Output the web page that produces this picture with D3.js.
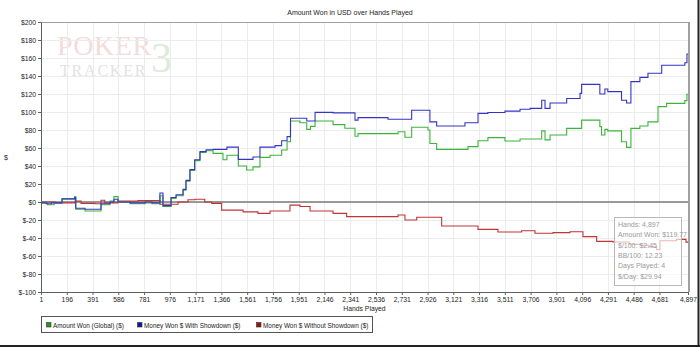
<!DOCTYPE html>
<html><head><meta charset="utf-8">
<script src="https://cdn.jsdelivr.net/npm/d3@7"></script>
<style>body{margin:0;background:#fff}svg{display:block}</style>
</head><body><svg id="c" width="700" height="348" font-family="'Liberation Sans',Arial,sans-serif"></svg>
<script>
const xTicks = [1,196,391,586,781,976,1171,1366,1561,1756,1951,2146,2341,2536,2731,2926,3121,3316,3511,3706,3901,4096,4291,4486,4681,4897];
const yTicks = [-100,-80,-60,-40,-20,0,20,40,60,80,100,120,140,160,180,200];
const seriesNames = ["Amount Won (Global) ($)","Money Won $ With Showdown ($)","Money Won $ Without Showdown ($)"];
const seriesColors = ["#3cb43c","#3535c4","#c03434"];
const legendColors = ["#1f9a1f","#15159a","#9a1515"];
// [hands, dollars]
const greenSeries = [[1,-1],[50,-3],[100,-1],[160,3.5],[256,5.5],[264,-8],[334,-10],[455,-3],[523,1],[553,6],[584,0],[675,-2],[788,-1],[841,-2],[901,7],[924,-5],[985,4],[1023,7],[1076,13],[1098,23],[1128,35],[1164,46],[1204,55],[1250,57],[1303,54],[1378,47],[1408,52],[1494,40],[1557,35.5],[1605,39],[1658,49.6],[1734,52],[1822,57.8],[1863,67],[1889,90],[1961,88],[2012,80.7],[2040,84],[2075,90],[2211,86],[2300,82],[2377,73],[2400,76],[2627,76],[2703,78],[2755,72],[2806,83],[2929,80],[2944,65],[2995,58.5],[3232,61.5],[3308,68],[3383,71.5],[3512,67.8],[3626,70],[3790,79],[3815,69],[3853,74.4],[3979,81.8],[4092,91],[4230,83.7],[4243,74.4],[4268,80.7],[4290,79],[4394,67],[4432,60.7],[4465,81.8],[4533,84.4],[4594,89],[4670,106],[4735,109.6],[4873,112.6],[4889,119.77],[4897,119.77]];
const blueSeries = [[1,-1],[40,-2],[80,-1],[160,3.5],[256,5.5],[264,-7],[334,-8],[455,-2],[523,0],[553,3],[584,0],[675,-1],[788,0],[841,-1],[901,10],[924,-4],[985,5],[1023,8],[1076,14],[1098,24],[1128,36],[1164,47],[1204,56],[1250,58],[1303,58.5],[1408,61],[1494,47.4],[1605,50],[1658,61],[1772,62.6],[1822,68],[1863,72.6],[1889,93],[2012,90],[2075,99.6],[2211,99],[2377,91],[2400,93.7],[2627,92],[2806,102],[2944,89],[2995,84.4],[3209,88],[3308,98.5],[3383,99.5],[3512,101],[3626,103],[3702,104],[3790,113],[3815,104],[3853,110],[3979,115],[4080,120.7],[4092,130.7],[4230,120],[4268,125.5],[4290,122.6],[4394,113],[4432,110],[4465,133.7],[4533,138.5],[4594,143],[4698,152],[4873,154.8],[4889,164.4],[4897,164.4]];
const redSeries = [[1,0],[107,-1],[258,1],[304,-1.5],[410,-2],[455,2],[483,-1],[584,1],[735,1.5],[901,-2.5],[1038,0],[1113,2.5],[1166,3],[1240,0],[1293,-1.5],[1368,-9],[1530,-11],[1643,-12.6],[1734,-10],[1885,-3.5],[1961,-5],[2037,-10],[2211,-12.6],[2314,-16.3],[2703,-14.4],[2755,-20],[2844,-17],[3033,-26.7],[3308,-30.4],[3459,-33.3],[3638,-32],[3739,-34.8],[3875,-34],[4004,-33],[4102,-38.5],[4206,-43.7],[4329,-44.4],[4450,-47],[4533,-48],[4600,-50],[4660,-53],[4685,-43],[4811,-41.5],[4882,-44.6],[4897,-44.6]];
const tooltipLines = ["Hands: 4,897","Amount Won: $119.77","$/100: $2.45","BB/100: 12.23","Days Played: 4","$/Day: $29.94"];

const svg = d3.select("#c");
const L=41,R=688,T=22,B=292;
const x = d3.scaleLinear().domain([1,4897]).range([L,R]);
const y = d3.scaleLinear().domain([-100,200]).range([B,T]);

// watermark
const serif = "'Liberation Serif','DejaVu Serif',serif";
svg.append("text").attr("x",57).attr("y",55).style("font-family",serif).attr("font-size",28).attr("fill","#f2dcdc").attr("letter-spacing",0.6).text("POKER");
svg.append("text").attr("x",151).attr("y",72).style("font-family",serif).attr("font-size",42).attr("fill","#dcecdc").text("3");
svg.append("text").attr("x",60).attr("y",75.5).style("font-family",serif).attr("font-size",16).attr("fill","#e2e2e2").attr("letter-spacing",1.8).text("TRACKER");

// grid
svg.append("g").selectAll("line").data(yTicks).join("line")
  .attr("x1",L).attr("x2",R).attr("y1",d=>y(d)+0.5).attr("y2",d=>y(d)+0.5).attr("stroke","#ececec");
svg.append("g").selectAll("line").data(xTicks).join("line")
  .attr("y1",T).attr("y2",B).attr("x1",d=>Math.round(x(d))+0.5).attr("x2",d=>Math.round(x(d))+0.5).attr("stroke","#ececec");

// zero line
svg.append("line").attr("x1",L).attr("x2",R).attr("y1",y(0)).attr("y2",y(0)).attr("stroke","#7a7a7a").attr("stroke-width",1.5);

// lines
const line = d3.line().x(d=>x(d[0])).y(d=>y(d[1])).curve(d3.curveStepAfter);
[[redSeries,2],[greenSeries,0],[blueSeries,1]].forEach(([s,i])=>{
  svg.append("path").datum(s).attr("d",line).attr("fill","none").attr("stroke",seriesColors[i]).attr("stroke-width",1.1);
});

// plot border
svg.append("line").attr("x1",L).attr("x2",R).attr("y1",T+0.5).attr("y2",T+0.5).attr("stroke","#a0a0a0");
svg.append("line").attr("x1",R+1).attr("x2",R+1).attr("y1",T).attr("y2",B).attr("stroke","#a0a0a0").attr("stroke-width",2);

// axes
const fmtY = d => d<0 ? "$-"+(-d) : "$"+d;
const ya = svg.append("g").attr("transform",`translate(${L},0)`)
  .call(d3.axisLeft(y).tickValues(yTicks).tickSize(3).tickSizeOuter(0).tickPadding(2).tickFormat(fmtY));
const xa = svg.append("g").attr("transform",`translate(0,${B})`)
  .call(d3.axisBottom(x).tickValues(xTicks).tickSize(3).tickSizeOuter(0).tickPadding(2).tickFormat(d3.format(",")));
[ya,xa].forEach(g=>{
  g.attr("font-family",null);
  g.select(".domain").attr("stroke","#606060");
  g.selectAll(".tick line").attr("stroke","#606060");
  g.selectAll("text").attr("font-size",6.8).attr("fill","#222");
});

// titles
svg.append("text").attr("x",350).attr("y",15).attr("text-anchor","middle").attr("font-size",7).attr("fill","#222").text("Amount Won in USD over Hands Played");
svg.append("text").attr("x",(L+R)/2).attr("y",311).attr("text-anchor","middle").attr("font-size",6.8).attr("fill","#222").text("Hands Played");
svg.append("text").attr("x",6).attr("y",(T+B)/2+2.5).attr("text-anchor","middle").attr("font-size",7).attr("fill","#222").text("$");

// legend
svg.append("rect").attr("x",41.5).attr("y",316.5).attr("width",331).attr("height",16).attr("fill","#fff").attr("stroke","#555");
const legX = [46,137,256];
seriesNames.forEach((n,i)=>{
  const g = svg.append("g").attr("transform",`translate(${legX[i]},322)`);
  g.append("rect").attr("x",0.5).attr("y",0.5).attr("width",4.5).attr("height",4.5).attr("fill",legendColors[i]).attr("stroke","#333").attr("stroke-width",0.6);
  g.append("text").attr("x",7).attr("y",5.5).attr("font-size",6.4).attr("fill","#222").text(n);
});

// tooltip
svg.append("rect").attr("x",614.5).attr("y",217.5).attr("width",67).attr("height",68).attr("fill","#fff").attr("fill-opacity",0.65).attr("stroke","#b8b8b8");
tooltipLines.forEach((t,i)=>{
  svg.append("text").attr("x",618).attr("y",227+i*10.3).attr("font-size",7).attr("fill","#9a9a9a").text(t);
});

// outer frame
svg.append("line").attr("x1",0).attr("x2",700).attr("y1",346).attr("y2",346).attr("stroke","#222").attr("stroke-width",2);
svg.append("line").attr("x1",698.5).attr("x2",698.5).attr("y1",0).attr("y2",347).attr("stroke","#222").attr("stroke-width",2);
</script></body></html>
